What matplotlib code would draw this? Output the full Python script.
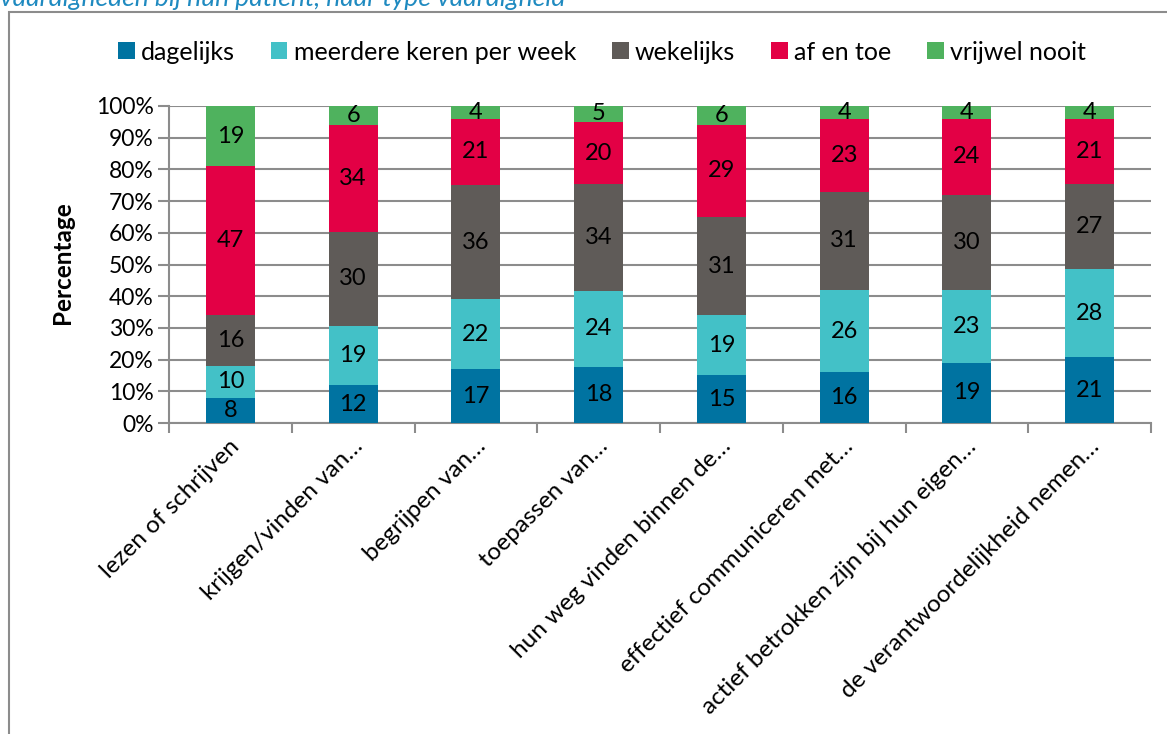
import numpy as np
import matplotlib.pyplot as plt
from matplotlib.patches import Rectangle, Patch

plt.rcParams['font.family'] = ['Lato', 'DejaVu Sans']

categories = ['lezen of schrijven', 'krijgen/vinden van\u2026', 'begrijpen van\u2026',
              'toepassen van\u2026', 'hun weg vinden binnen de\u2026',
              'effectief communiceren met\u2026', 'actief betrokken zijn bij hun eigen\u2026',
              'de verantwoordelijkheid nemen\u2026']
series = ['dagelijks', 'meerdere keren per week', 'wekelijks', 'af en toe', 'vrijwel nooit']
dagelijks = [8, 12, 17, 18, 15, 16, 19, 21]
meerdere = [10, 19, 22, 24, 19, 26, 23, 28]
wekelijks = [16, 30, 36, 34, 31, 31, 30, 27]
af_en_toe = [47, 34, 21, 20, 29, 23, 24, 21]
vrijwel_nooit = [19, 6, 4, 5, 6, 4, 4, 4]
colors = ['#0073a1', '#43c1c7', '#5f5b58', '#e30045', '#4fb25e']
yticks = ['0%', '10%', '20%', '30%', '40%', '50%', '60%', '70%', '80%', '90%', '100%']

data = np.array([dagelijks, meerdere, wekelijks, af_en_toe, vrijwel_nooit], dtype=float)
pct = data / data.sum(axis=0) * 100

fig = plt.figure(figsize=(11.67, 7.34), dpi=100)
ax = fig.add_axes([169 / 1167, 311 / 734, 982 / 1167, 317 / 734])

x = np.arange(len(categories))
bottom = np.zeros(len(categories))
for i in range(len(series)):
    ax.bar(x, pct[i], 0.4, bottom=bottom, color=colors[i], zorder=3)
    for j in range(len(categories)):
        ax.text(x[j], bottom[j] + pct[i][j] / 2, '%d' % data[i][j], ha='center', va='center',
                fontsize=17, color='black', zorder=4)
    bottom += pct[i]

ax.set_xlim(-0.5, len(categories) - 0.5)
ax.set_ylim(0, 100)
ax.set_yticks(np.arange(0, 101, 10))
ax.set_yticklabels(yticks, fontsize=16.5)
ax.yaxis.grid(True, color='#8c8c8c', linewidth=1.5, zorder=0)
ax.tick_params(axis='y', length=8, width=1.5, color='#8c8c8c', pad=3)

# category ticks sit between bars
ax.set_xticks(np.arange(-0.5, len(categories), 1.0))
ax.set_xticklabels([])
ax.tick_params(axis='x', length=7, width=1.5, color='#8c8c8c')
for j, cat in enumerate(categories):
    ax.annotate(cat, xy=(x[j], 0), xycoords=('data', 'axes fraction'),
                xytext=(-1, -9), textcoords='offset points', rotation=45,
                ha='right', va='top', rotation_mode='anchor', fontsize=17.5)

for s in ['top', 'right']:
    ax.spines[s].set_visible(False)
for s in ['left', 'bottom']:
    ax.spines[s].set_color('#8c8c8c')
    ax.spines[s].set_linewidth(1.5)

fig.text(62 / 1167, 1 - 263 / 734, 'Percentage', rotation=90, ha='center', va='center',
         fontsize=17.5, fontweight='bold')

handles = [Patch(facecolor=c) for c in colors]
fig.legend(handles, series, loc='center', bbox_to_anchor=(602 / 1167, 1 - 52 / 734),
           ncol=5, frameon=False, fontsize=18, handlelength=0.65, handleheight=0.65,
           handletextpad=0.25, columnspacing=1.45)

# outer frame (cut off at right and bottom)
fig.patches.append(Rectangle((9 / 1167, -0.1), 1.2, 1 - 12 / 734 + 0.1, transform=fig.transFigure,
                             fill=False, edgecolor='#8c8c8c', linewidth=1.5))

fig.text(0, 1 - 6 / 734, 'vaardigheden bij hun patiënt, naar type vaardigheid', ha='left',
         va='baseline', fontsize=19, style='italic', color='#1f8ac0')

fig.savefig('out.png', dpi=100)
